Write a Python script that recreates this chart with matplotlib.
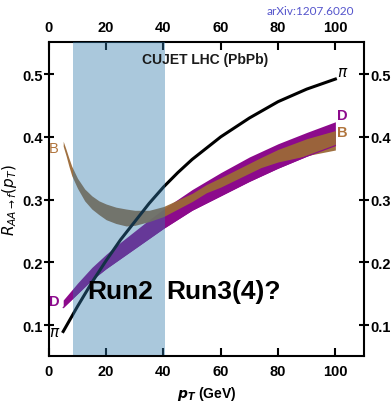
import numpy as np
import matplotlib.pyplot as plt

plt.rcParams['font.family'] = ['Liberation Sans', 'DejaVu Sans']
plt.rcParams['mathtext.fontset'] = 'dejavusans'

# pion curve
pt_pi = [5, 10, 15, 20, 25, 30, 35, 40, 45, 50, 60, 70, 80, 90, 100]
raa_pi = [0.09, 0.13, 0.168, 0.203, 0.236, 0.265, 0.294, 0.32, 0.343, 0.364,
          0.40, 0.43, 0.456, 0.476, 0.492]

# D meson band
pt_D = [5, 10, 15, 20, 25, 30, 35, 40, 50, 60, 70, 80, 90, 100]
D_lo = [0.128, 0.15, 0.172, 0.19, 0.206, 0.222, 0.238, 0.254, 0.283, 0.306, 0.329, 0.35, 0.369, 0.386]
D_hi = [0.14, 0.167, 0.192, 0.213, 0.232, 0.25, 0.268, 0.285, 0.316, 0.343, 0.368, 0.389, 0.407, 0.424]

# B meson band
pt_B = [5, 6, 7, 8, 10, 12.5, 15, 17.5, 20, 23.4, 27, 30, 35, 40, 50, 55, 60, 74, 80, 90, 100]
B_lo = [0.385, 0.37, 0.353, 0.338, 0.318, 0.298, 0.285, 0.276, 0.268, 0.262, 0.258, 0.259,
        0.265, 0.273, 0.297, 0.311, 0.32, 0.351, 0.36, 0.37, 0.379]
B_hi = [0.393, 0.38, 0.366, 0.353, 0.334, 0.317, 0.306, 0.298, 0.293, 0.288, 0.285, 0.283,
        0.283, 0.289, 0.31, 0.324, 0.335, 0.367, 0.38, 0.397, 0.41]

run2 = (8.5, 40.5)

fig = plt.figure(figsize=(3.91, 4.02), dpi=100)
ax = fig.add_axes([0.125, 0.112, 0.806, 0.781])

ax.fill_between(pt_D, D_lo, D_hi, color='#8c0a8c', lw=0, zorder=2)
ax.fill_between(pt_B, B_lo, B_hi, color='#9b6937', lw=0, alpha=0.95, zorder=3)
ax.plot(pt_D, D_lo, color='#8c0a8c', lw=0.8, zorder=3.5)
ax.plot(pt_pi, raa_pi, color='black', lw=2.2, zorder=4)

# Run2 window drawn on top as a translucent overlay
ax.axvspan(run2[0], run2[1], ymin=0.004, ymax=1, color='#317aab', alpha=0.41, lw=0, zorder=5)

ax.text(54.5, 0.524, 'CUJET LHC (PbPb)', ha='center', va='center', fontsize=10,
        fontweight='bold', color='#1a1a1a', zorder=6)
ax.text(25, 0.143, 'Run2', ha='center', va='baseline', fontsize=19, fontweight='bold', zorder=6)
ax.text(61, 0.143, 'Run3(4)?', ha='center', va='baseline', fontsize=19, fontweight='bold', zorder=6)

ax.text(1.8, 0.383, 'B', color='#b0743c', fontsize=10.5, ha='center', va='center')
ax.text(1.8, 0.138, 'D', color='#8c0a8c', fontsize=10.5, fontweight='bold', ha='center', va='center')
ax.text(2.0, 0.089, r'$\pi$', color='black', fontsize=11, ha='center', va='center')
ax.text(102.5, 0.503, r'$\pi$', color='black', fontsize=11, ha='center', va='center')
ax.text(102.5, 0.434, 'D', color='#8c0a8c', fontsize=10.5, fontweight='bold', ha='center', va='center')
ax.text(102.5, 0.407, 'B', color='#b0743c', fontsize=10.5, fontweight='bold', ha='center', va='center')

ax.set_xlim(0, 110)
ax.set_ylim(0.051, 0.551)
ax.set_xticks([0, 20, 40, 60, 80, 100])
ax.set_yticks([0.1, 0.2, 0.3, 0.4, 0.5])
ax.set_yticklabels(['0.1', '0.2', '0.3', '0.4', '0.5'])

for s in ax.spines.values():
    s.set_linewidth(1.5)
ax.tick_params(axis='x', which='both', direction='in', length=6, width=1.5,
               top=True, labeltop=True, pad=6, labelsize=10.5)
ax.tick_params(axis='y', which='both', direction='inout', length=7, width=1.5,
               right=True, labelright=True, pad=1, labelsize=10.5)
for lab in ax.get_xticklabels() + ax.get_yticklabels():
    lab.set_fontweight('bold')

ax.set_xlabel(r'$\mathbfit{p}_\mathbfit{T}$ (GeV)', fontsize=10, fontweight='bold', labelpad=4)
ax.set_ylabel(r'$R_{AA\to f}(p_T)$', fontsize=11, labelpad=2)

fig.text(0.683, 0.972, 'arXiv:1207.6020', color='#5555cc', fontsize=8.5,
         family=['Lato', 'DejaVu Sans'], ha='left', va='center')

fig.savefig('out.png', dpi=100)
